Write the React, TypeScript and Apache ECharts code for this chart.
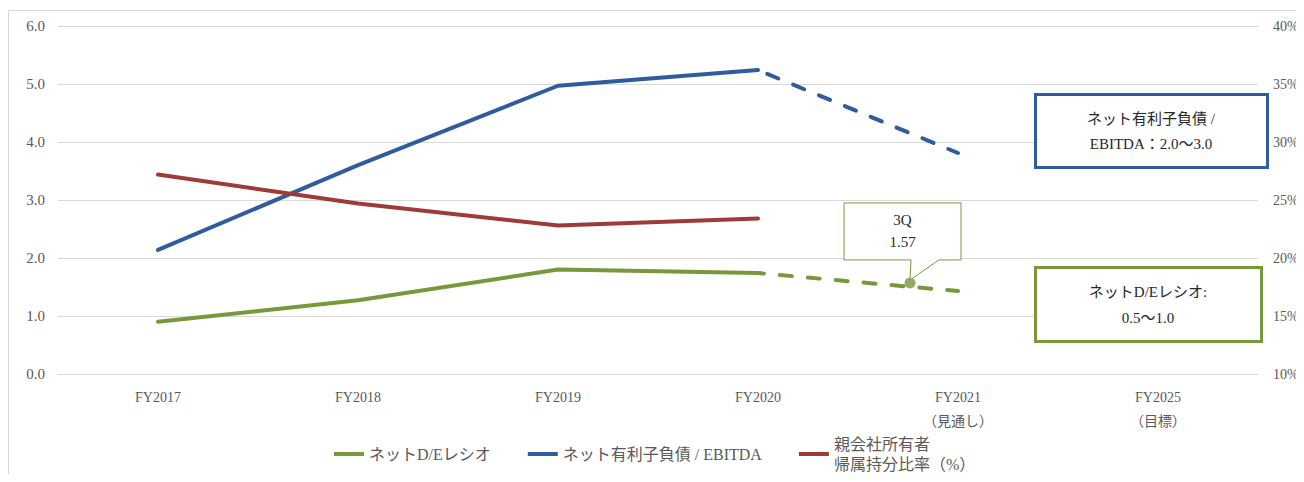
import React, { useEffect, useRef } from "react";
import * as echarts from "echarts";

const categories = ["FY2017", "FY2018", "FY2019", "FY2020", "FY2021\n（見通し）", "FY2025\n（目標）"];
const deRatioActual = [0.9, 1.27, 1.8, 1.74, null, null];
const deRatioForecast = [null, null, null, 1.74, 1.43, null];
const debtEbitdaActual = [2.14, 3.6, 4.97, 5.24, null, null];
const debtEbitdaForecast = [null, null, null, 5.24, 3.81, null];
const equityRatio = [27.2, 24.7, 22.8, 23.4, null, null];
const q3Position = 3.76;
const q3Value = 1.57;
const q3Label = "3Q";

const NAME_DE = "ネットD/Eレシオ";
const NAME_EBITDA = "ネット有利子負債 / EBITDA";
const NAME_EQ = "親会社所有者\n帰属持分比率（%）";

const GREEN = "#77993C";
const BLUE = "#2E5C9E";
const RED = "#9E3A38";
const FONT = "'Liberation Serif', 'Noto Sans CJK JP', serif";
const GRID_COLOR = "#d9d9d9";
const LABEL_COLOR = "#595959";

export default function App() {
  const ref = useRef<HTMLDivElement>(null);
  useEffect(() => {
    if (!ref.current) return;
    const chart = echarts.init(ref.current, null, { renderer: "svg" });
    const dash = [12, 16];
    chart.setOption({
      animation: false,
      textStyle: { fontFamily: FONT },
      grid: { left: 50, right: 46, top: 18, bottom: 100, containLabel: false, outerBoundsMode: "none" },
      legend: {
        data: [
          { name: NAME_DE },
          { name: NAME_EBITDA },
          { name: NAME_EQ, textStyle: { padding: [20, 0, 0, 0] } },
        ],
        left: 321,
        top: 411,
        icon: "rect",
        itemWidth: 30,
        itemHeight: 4,
        itemGap: 37,
        textStyle: { fontFamily: FONT, fontSize: 16, color: LABEL_COLOR, lineHeight: 20 },
      },
      xAxis: [
        {
          type: "category",
          data: categories,
          boundaryGap: true,
          axisLine: { lineStyle: { color: GRID_COLOR, width: 1 } },
          axisTick: { show: false },
          axisLabel: { margin: 11, fontSize: 14, color: LABEL_COLOR, fontFamily: FONT, lineHeight: 24 },
        },
        { type: "value", min: -0.5, max: 5.5, show: false },
      ],
      yAxis: [
        {
          type: "value",
          min: 0,
          max: 6,
          interval: 1,
          axisLine: { show: false },
          axisTick: { show: false },
          splitLine: { lineStyle: { color: GRID_COLOR, width: 1 } },
          axisLabel: {
            margin: 13,
            fontSize: 15,
            color: LABEL_COLOR,
            fontFamily: FONT,
            formatter: (v: number) => v.toFixed(1),
          },
        },
        {
          type: "value",
          min: 10,
          max: 40,
          interval: 5,
          axisLine: { show: false },
          axisTick: { show: false },
          splitLine: { show: false },
          axisLabel: { margin: 15, fontSize: 14, color: LABEL_COLOR, fontFamily: FONT, formatter: "{value}%" },
        },
      ],
      series: [
        {
          name: NAME_DE,
          type: "line",
          data: deRatioActual,
          symbol: "none",
          itemStyle: { color: GREEN },
          lineStyle: { color: GREEN, width: 4, cap: "round" },
        },
        {
          name: NAME_DE,
          type: "line",
          data: deRatioForecast,
          symbol: "none",
          itemStyle: { color: GREEN },
          lineStyle: { color: GREEN, width: 4, type: dash, dashOffset: 6, cap: "round" },
        },
        {
          name: NAME_EBITDA,
          type: "line",
          data: debtEbitdaActual,
          symbol: "none",
          itemStyle: { color: BLUE },
          lineStyle: { color: BLUE, width: 4, cap: "round" },
        },
        {
          name: NAME_EBITDA,
          type: "line",
          data: debtEbitdaForecast,
          symbol: "none",
          itemStyle: { color: BLUE },
          lineStyle: { color: BLUE, width: 4, type: dash, dashOffset: 18, cap: "round" },
        },
        {
          name: NAME_EQ,
          type: "line",
          yAxisIndex: 1,
          data: equityRatio,
          symbol: "none",
          itemStyle: { color: RED },
          lineStyle: { color: RED, width: 4, cap: "round" },
        },
        {
          name: q3Label,
          type: "scatter",
          xAxisIndex: 1,
          yAxisIndex: 0,
          data: [[q3Position, q3Value]],
          symbol: "circle",
          symbolSize: 11,
          itemStyle: { color: GREEN },
          z: 5,
        },
      ],
    });

    const p = chart.convertToPixel({ xAxisIndex: 1, yAxisIndex: 0 }, [q3Position, q3Value]) as number[];
    const px = p[0];
    const py = p[1];
    const L = px - 66;
    const R = px + 51;
    const T = py - 80;
    const B = py - 23;

    chart.setOption({
      graphic: [
        {
          type: "rect",
          shape: { x: 0.5, y: 2.5, width: 1295, height: 470 },
          style: { fill: "none", stroke: GRID_COLOR, lineWidth: 1 },
          silent: true,
          z: -10,
        },
        {
          type: "polygon",
          shape: {
            points: [
              [L, T],
              [R, T],
              [R, B],
              [px + 29, B],
              [px, py - 3],
              [px + 1, B],
              [L, B],
            ],
          },
          style: { fill: "#ffffff", stroke: GREEN, lineWidth: 1 },
          z: 10,
        },
        {
          type: "text",
          x: (L + R) / 2,
          y: (T + B) / 2,
          style: {
            text: q3Label + "\n" + q3Value.toFixed(2),
            fontFamily: FONT,
            fontSize: 15,
            lineHeight: 22,
            fill: "#262626",
            align: "center",
            verticalAlign: "middle",
          },
          z: 11,
        },
        {
          type: "rect",
          shape: { x: 1027.5, y: 86.5, width: 232, height: 73 },
          style: { fill: "#ffffff", stroke: BLUE, lineWidth: 3 },
          z: 10,
        },
        {
          type: "text",
          x: 1143,
          y: 123,
          style: {
            text: "ネット有利子負債 /\nEBITDA：2.0～3.0",
            fontFamily: FONT,
            fontSize: 15,
            lineHeight: 25,
            fill: "#262626",
            align: "center",
            verticalAlign: "middle",
          },
          z: 11,
        },
        {
          type: "rect",
          shape: { x: 1027.5, y: 259.5, width: 226, height: 74 },
          style: { fill: "#ffffff", stroke: GREEN, lineWidth: 3 },
          z: 10,
        },
        {
          type: "text",
          x: 1140,
          y: 297,
          style: {
            text: "ネットD/Eレシオ:\n0.5～1.0",
            fontFamily: FONT,
            fontSize: 15,
            lineHeight: 26,
            fill: "#262626",
            align: "center",
            verticalAlign: "middle",
          },
          z: 11,
        },
      ],
    });

    return () => chart.dispose();
  }, []);
  return <div ref={ref} style={{ width: 1296, height: 466 }} />;
}
